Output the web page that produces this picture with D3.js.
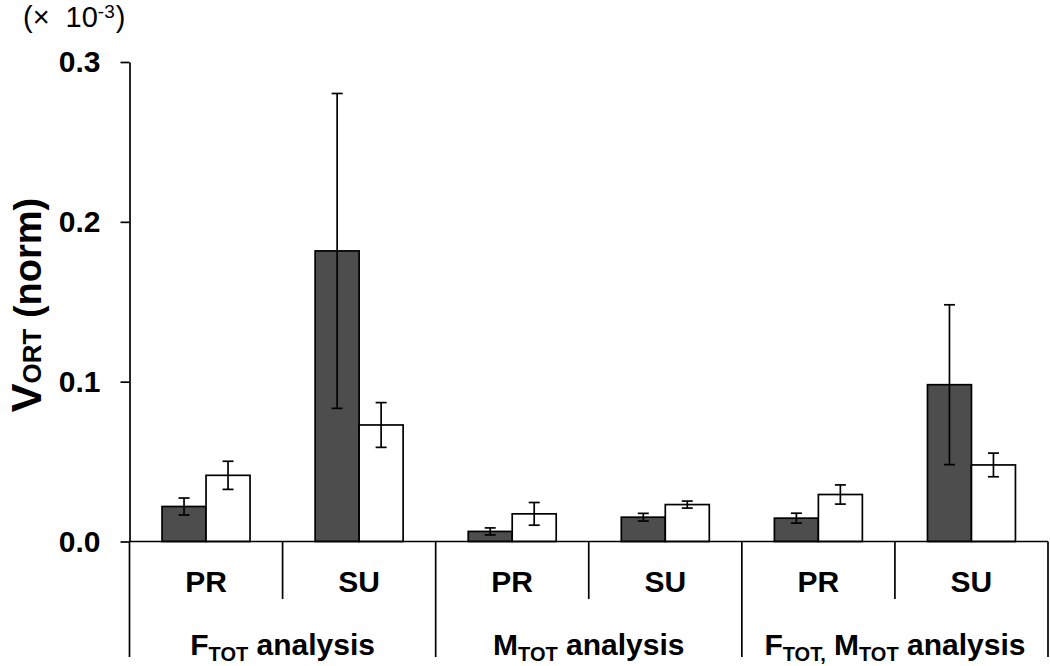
<!DOCTYPE html>
<html>
<head>
<meta charset="utf-8">
<script src="https://cdn.jsdelivr.net/npm/d3@7"></script>
<style>
  html, body { margin: 0; padding: 0; background: #fff; }
  svg { display: block; font-family: "Liberation Sans", Arial, sans-serif; }
</style>
</head>
<body>
<svg id="chart" width="1050" height="666"></svg>
<script>
// ---- data ----
const categories = ["PR", "SU", "PR", "SU", "PR", "SU"];
const groupLabels = [
  [["F", false], ["TOT", true], [" analysis", false]],
  [["M", false], ["TOT", true], [" analysis", false]],
  [["F", false], ["TOT,", true], [" M", false], ["TOT", true], [" analysis", false]]
];
const seriesNames = ["dark", "white"];
const darkValues  = [0.0219, 0.1818, 0.0063, 0.0152, 0.0146, 0.0981];
const darkErrors  = [0.0053, 0.0985, 0.0022, 0.0024, 0.0031, 0.0500];
const whiteValues = [0.0414, 0.0729, 0.0173, 0.0231, 0.0294, 0.0479];
const whiteErrors = [0.0088, 0.0140, 0.0071, 0.0022, 0.0060, 0.0074];
const yTicks = [0, 0.1, 0.2, 0.3];

// ---- layout ----
const svg = d3.select("#chart");
const plotLeft = 129.5, plotRight = 1048, plotTop = 62, plotBase = 541.5;
const minorBottom = 599, majorBottom = 657;

const x0 = d3.scaleBand().domain(d3.range(categories.length)).range([plotLeft, plotRight]).padding(0);
const x1 = d3.scaleBand().domain(seriesNames).range([0, x0.bandwidth()]).paddingInner(0).paddingOuter(0.74);
const y = d3.scaleLinear().domain([0, 0.3]).range([plotBase, plotTop]);

const colors = { dark: "#4d4d4d", white: "#ffffff" };

const rows = categories.map((c, i) => ({
  i,
  bars: [
    { s: "dark", v: darkValues[i], e: darkErrors[i] },
    { s: "white", v: whiteValues[i], e: whiteErrors[i] }
  ]
}));

// bars
const g = svg.append("g");
const cat = g.selectAll("g.cat").data(rows).join("g")
  .attr("transform", d => `translate(${x0(d.i)},0)`);

cat.selectAll("rect").data(d => d.bars).join("rect")
  .attr("x", d => x1(d.s))
  .attr("y", d => y(d.v))
  .attr("width", x1.bandwidth())
  .attr("height", d => y(0) - y(d.v))
  .attr("fill", d => colors[d.s])
  .attr("stroke", "#000")
  .attr("stroke-width", 1.7);

// error bars
const eb = cat.selectAll("g.err").data(d => d.bars).join("g")
  .attr("transform", d => `translate(${x1(d.s) + x1.bandwidth() / 2},0)`)
  .attr("stroke", "#000").attr("stroke-width", 1.7);
eb.append("line").attr("x1", 0).attr("x2", 0)
  .attr("y1", d => y(d.v + d.e)).attr("y2", d => y(d.v - d.e));
eb.append("line").attr("x1", -5.5).attr("x2", 5.5)
  .attr("y1", d => y(d.v + d.e)).attr("y2", d => y(d.v + d.e));
eb.append("line").attr("x1", -5.5).attr("x2", 5.5)
  .attr("y1", d => y(d.v - d.e)).attr("y2", d => y(d.v - d.e));

// y axis
const yAxis = d3.axisLeft(y).tickValues(yTicks).tickFormat(d3.format(".1f"))
  .tickSize(9).tickSizeOuter(0).tickPadding(20);
const ya = svg.append("g").attr("transform", `translate(${plotLeft},0)`).call(yAxis);
ya.select(".domain").attr("stroke", "#000").attr("stroke-width", 1.7);
ya.selectAll(".tick line").attr("stroke", "#000").attr("stroke-width", 1.7);
ya.selectAll(".tick text").attr("font-size", 30).attr("font-weight", "bold")
  .attr("fill", "#000").attr("font-family", "'Liberation Sans', Arial, sans-serif");

// baseline
svg.append("line").attr("x1", plotLeft).attr("x2", plotRight).attr("y1", plotBase).attr("y2", plotBase)
  .attr("stroke", "#000").attr("stroke-width", 1.7);

// dividers
const bounds = d3.range(categories.length + 1);
svg.selectAll("line.div").data(bounds).join("line")
  .attr("x1", i => i < categories.length ? x0(i) : plotRight)
  .attr("x2", i => i < categories.length ? x0(i) : plotRight)
  .attr("y1", plotBase)
  .attr("y2", i => i % 2 === 0 ? majorBottom : minorBottom)
  .attr("stroke", "#000").attr("stroke-width", 1.7);

// category labels
svg.selectAll("text.cat").data(categories).join("text")
  .attr("x", (d, i) => x0(i) + x0.bandwidth() / 2)
  .attr("y", 592)
  .attr("text-anchor", "middle")
  .attr("font-size", 30).attr("font-weight", "bold")
  .text(d => d);

// group labels
groupLabels.forEach((parts, gi) => {
  const cx = x0(gi * 2) + x0.bandwidth();
  const t = svg.append("text").attr("x", cx).attr("y", 655)
    .attr("text-anchor", "middle").attr("font-size", 30).attr("font-weight", "bold");
  parts.forEach(([s, sub], k) => {
    const ts = t.append("tspan").text(s);
    if (sub) ts.attr("font-size", 20).attr("dy", k > 0 && parts[k - 1][1] ? 0 : 6);
    else if (k > 0 && parts[k - 1][1]) ts.attr("dy", -6);
  });
});

// y label
const yl = svg.append("text")
  .attr("transform", "translate(41,305) rotate(-90)")
  .attr("text-anchor", "middle").attr("font-weight", "bold").attr("font-size", 38);
yl.append("tspan").text("V").attr("font-size", 43);
yl.append("tspan").text("ORT").attr("font-size", 26);
yl.append("tspan").text(" (norm)");

// multiplier
const mult = svg.append("text").attr("x", 23).attr("y", 27).attr("font-size", 29);
mult.append("tspan").text("(×");
mult.append("tspan").text("10").attr("dx", 16);
mult.append("tspan").text("-3").attr("font-size", 19).attr("dy", -9);
mult.append("tspan").text(")").attr("dy", 9).attr("dx", 1);
</script>
</body>
</html>
